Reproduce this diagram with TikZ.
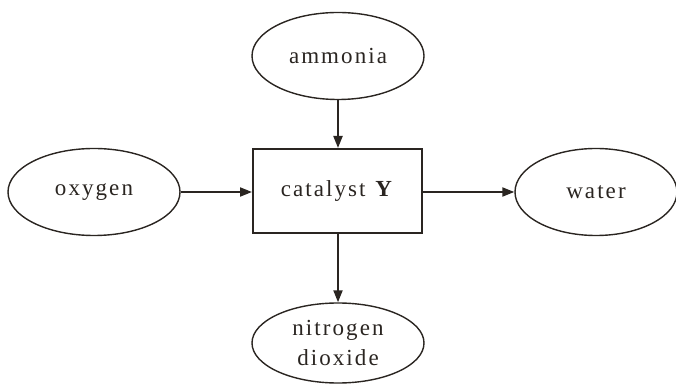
\documentclass[tikz,border=0pt]{standalone}
\usepackage{fontspec}
\setmainfont[LetterSpace=9]{Liberation Serif}
\usetikzlibrary{shapes.geometric,arrows.meta}
\definecolor{ink}{RGB}{42,37,33}
\begin{document}
\begin{tikzpicture}[x=1pt,y=1pt,
  every node/.style={font=\fontsize{23}{30}\selectfont, text=ink},
  oval/.style={ellipse, draw=ink, line width=1.4pt, inner sep=0pt, minimum width=172pt, minimum height=87pt, align=center},
  boxnode/.style={rectangle, draw=ink, line width=2pt, minimum width=169pt, minimum height=84pt, inner sep=0pt},
  flow/.style={draw=ink, line width=2pt, -{Triangle[length=12pt,width=9pt]}}]
\useasboundingbox (0,0) rectangle (676,385);
\node[boxnode] (box) at (337.5,194) {catalyst \textbf{Y}};
\node[oval] (amm) at (338,329) {ammonia};
\node[oval] (oxy) at (94,193) {oxygen};
\node[oval, minimum width=162pt] (wat) at (596,193) {water};
\node[oval, minimum height=80pt] (nit) at (338,42) {nitrogen\\[0pt]dioxide};
\draw[flow] (amm.south) -- (box.north -| amm.south);
\draw[flow] (oxy.east) -- (box.west |- oxy.east);
\draw[flow] (box.east |- wat.west) -- (wat.west);
\draw[flow] (box.south -| nit.north) -- (nit.north);
\end{tikzpicture}
\end{document}
